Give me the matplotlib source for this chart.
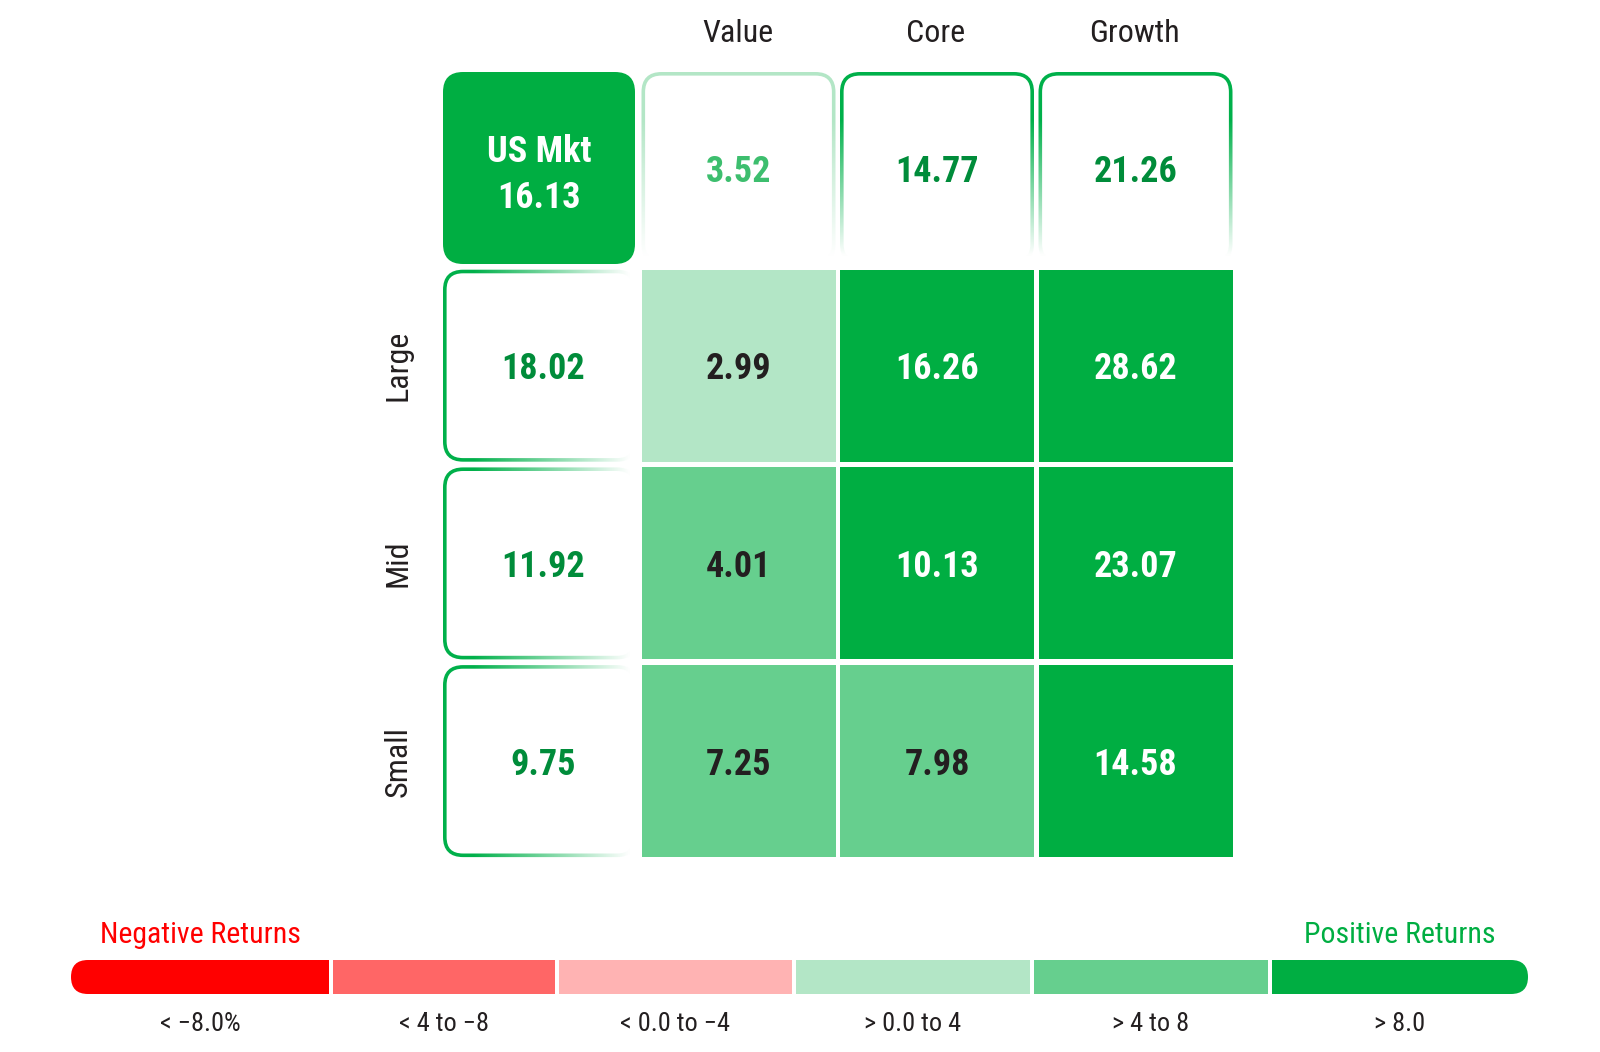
import os
import numpy as np
import matplotlib
matplotlib.use("Agg")
import matplotlib.pyplot as plt
from matplotlib import font_manager as fm
from matplotlib.patches import FancyBboxPatch, Rectangle

# ---------------- data ----------------
col_labels = ["Value", "Core", "Growth"]
row_labels = ["Large", "Mid", "Small"]
market_label = "US Mkt"
market_value = 16.13
style_totals = [3.52, 14.77, 21.26]          # top row (Value, Core, Growth)
size_totals = [18.02, 11.92, 9.75]           # left column (Large, Mid, Small)
grid_values = [[2.99, 16.26, 28.62],
               [4.01, 10.13, 23.07],
               [7.25, 7.98, 14.58]]
legend_labels = ["< \u22128.0%", "< 4 to \u22128", "< 0.0 to \u22124",
                 "> 0.0 to 4", "> 4 to 8", "> 8.0"]
bucket_edges = [-8, -4, 0, 4, 8]

# ---------------- styles ----------------
bucket_fill = ["#FF0000", "#FF6666", "#FFB3B3", "#B3E6C6", "#66CF8E", "#00AE42"]
bucket_fill_text = ["white", "#231F20", "#231F20", "#231F20", "#231F20", "white"]
bucket_edge = ["#FF0000", "#FF6666", "#FFB3B3", "#B3E6C6", "#66CF8E", "#00B04A"]
bucket_outline_text = ["#D00000", "#E04040", "#E07070", "#3DBE6E", "#20A858", "#008C3A"]
DARK = "#231F20"


def bucket(v):
    return int(np.searchsorted(bucket_edges, v, side="right"))


def find_font(target_weight):
    prefs = ["Roboto Condensed", "Liberation Sans Narrow", "Noto Sans", "Noto Sans Condensed",
             "DejaVu Sans", "DejaVu Sans Condensed", "Open Sans", "Open Sans Condensed"]
    best, best_score = None, None
    for f in fm.fontManager.ttflist:
        base = os.path.basename(f.fname).lower()
        st = f.stretch
        if isinstance(st, str):
            st = fm.stretch_dict.get(st, 500)
        cond = (st < 500 or "condensed" in base or "narrow" in base
                or "Condensed" in f.name or "Narrow" in f.name)
        if not cond:
            continue
        if f.style != "normal" or "italic" in base or "oblique" in base:
            continue
        if "condensed" in base and st >= 500:
            st = 300
        w = f.weight if isinstance(f.weight, (int, float)) else fm.weight_dict.get(f.weight, 400)
        pi = prefs.index(f.name) if f.name in prefs else 99
        score = (pi, abs(w - target_weight), abs(st - 300))
        if best_score is None or score < best_score:
            best, best_score = f, score
    if best is None:
        return fm.FontProperties(family="DejaVu Sans", stretch="condensed",
                                 weight="bold" if target_weight >= 600 else "normal")
    return fm.FontProperties(fname=best.fname)


FP_REG = find_font(400)
FP_BOLD = find_font(700)

# ---------------- layout (pixels) ----------------
W, H = 1600, 1052
X0, PX, CW = 443, 198.5, 194
Y0, PY, CH = 72, 197.7, 192
R = 20
LWPX = 3.6
PT = 72 / 100.0  # points per pixel

fig = plt.figure(figsize=(W / 100, H / 100), dpi=100)
ax = fig.add_axes([0, 0, 1, 1])


def cell_xy(col, row):
    return X0 + col * PX, Y0 + row * PY


def faded_outline(x0, y0, w, h, color, direction):
    inset = LWPX / 2
    ax.add_patch(FancyBboxPatch((x0 + inset, y0 + inset), w - 2 * inset, h - 2 * inset,
                                boxstyle=f"round,pad=0,rounding_size={R - inset}",
                                fc="white", ec=color, lw=LWPX * PT, zorder=2))
    n = 256
    s = np.linspace(0, 1, n)
    if direction == "down":
        a = np.clip((s - 0.25) / 0.70, 0, 1)
        img = np.ones((n, 1, 4))
        img[:, 0, 3] = a
    else:
        a = np.clip((s - 0.15) / 0.80, 0, 1)
        img = np.ones((1, n, 4))
        img[0, :, 3] = a
    ax.imshow(img, extent=(x0 - 0.5, x0 + w + 1.5, y0 + h + 1.5, y0 - 0.5), origin="upper",
              aspect="auto", interpolation="bilinear", zorder=3)


def number_text(x, y, s, color, size=26):
    # y is vertical centre of the digits
    ax.text(x, y + 13.5, s, ha="center", va="baseline", color=color,
            fontproperties=FP_BOLD, fontsize=size, zorder=5)


# ---- US Mkt box ----
x, y = cell_xy(0, 0)
ax.add_patch(FancyBboxPatch((x, y), CW - 2, CH, boxstyle=f"round,pad=0,rounding_size={R}",
                            fc=bucket_fill[bucket(market_value)], ec="none", zorder=2))
mk_txt = bucket_fill_text[bucket(market_value)]
ax.text(x + CW / 2 - 1, 162, market_label, ha="center", va="baseline", color=mk_txt,
        fontproperties=FP_BOLD, fontsize=26, zorder=5)
ax.text(x + CW / 2 - 1, 208, f"{market_value:.2f}", ha="center", va="baseline", color=mk_txt,
        fontproperties=FP_BOLD, fontsize=26, zorder=5)

# ---- top row (style totals) ----
for j, v in enumerate(style_totals):
    x, y = cell_xy(j + 1, 0)
    b = bucket(v)
    faded_outline(x, y, CW, CH, bucket_edge[b], "down")
    number_text(x + CW / 2, y + CH / 2, f"{v:.2f}", bucket_outline_text[b])

# ---- left column (size totals) ----
for i, v in enumerate(size_totals):
    x, y = cell_xy(0, i + 1)
    b = bucket(v)
    faded_outline(x, y, CW, CH, bucket_edge[b], "right")
    number_text(x + CW / 2 + 3, y + CH / 2, f"{v:.2f}", bucket_outline_text[b])

# ---- grid ----
for i, row in enumerate(grid_values):
    for j, v in enumerate(row):
        x, y = cell_xy(j + 1, i + 1)
        b = bucket(v)
        ax.add_patch(Rectangle((x, y), CW, CH, fc=bucket_fill[b], ec="none", zorder=4))
        number_text(x + CW / 2, y + CH / 2, f"{v:.2f}", bucket_fill_text[b])

# ---- headers ----
for j, lab in enumerate(col_labels):
    x, _ = cell_xy(j + 1, 0)
    ax.text(x + CW / 2 - 1, 42, lab, ha="center", va="baseline", color=DARK,
            fontproperties=FP_REG, fontsize=23)
for i, lab in enumerate(row_labels):
    _, y = cell_xy(0, i + 1)
    ax.text(398, y + CH / 2, lab, ha="center", va="center", rotation=90, color=DARK,
            fontproperties=FP_REG, fontsize=23)

# ---- legend bar ----
leg_bounds = [71, 331, 557, 794, 1032, 1270, 1528]
LY, LH = 960, 34
LR = LH / 2
n = len(legend_labels)
for k in range(n):
    a = leg_bounds[k] + (2 if k > 0 else 0)
    b_ = leg_bounds[k + 1] - (2 if k < n - 1 else 0)
    col = bucket_fill[k]
    if k == 0:
        ax.add_patch(FancyBboxPatch((a, LY), b_ - a, LH, boxstyle=f"round,pad=0,rounding_size={LR}",
                                    fc=col, ec="none"))
        ax.add_patch(Rectangle((a + LR, LY), b_ - a - LR, LH, fc=col, ec="none"))
    elif k == n - 1:
        ax.add_patch(FancyBboxPatch((a, LY), b_ - a, LH, boxstyle=f"round,pad=0,rounding_size={LR}",
                                    fc=col, ec="none"))
        ax.add_patch(Rectangle((a, LY), b_ - a - LR, LH, fc=col, ec="none"))
    else:
        ax.add_patch(Rectangle((a, LY), b_ - a, LH, fc=col, ec="none"))
    ax.text((a + b_) / 2, 1031, legend_labels[k], ha="center", va="baseline", color=DARK,
            fontproperties=FP_REG, fontsize=19)
    if k == 0:
        ax.text((a + b_) / 2, 943, "Negative Returns", ha="center", va="baseline",
                color=bucket_fill[0], fontproperties=FP_REG, fontsize=21.5)
    if k == n - 1:
        ax.text((a + b_) / 2, 943, "Positive Returns", ha="center", va="baseline",
                color=bucket_fill[-1], fontproperties=FP_REG, fontsize=21.5)

ax.set_xlim(0, W)
ax.set_ylim(H, 0)
ax.axis("off")
fig.savefig("out.png", dpi=100, facecolor="white")
